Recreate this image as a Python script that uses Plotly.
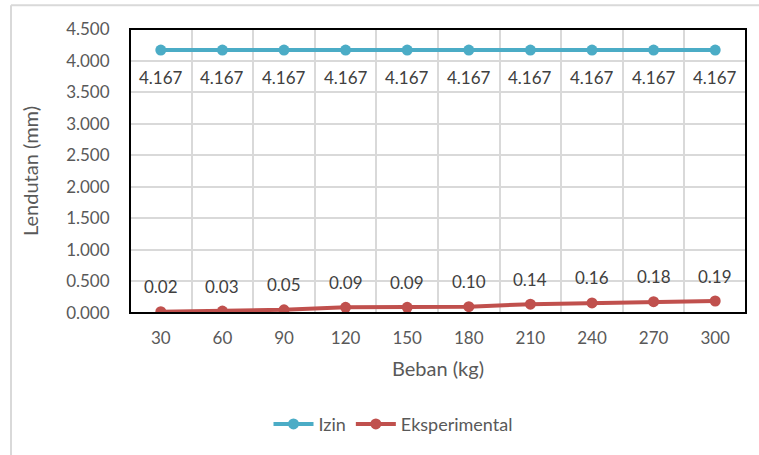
import plotly.graph_objects as go

beban = ["30", "60", "90", "120", "150", "180", "210", "240", "270", "300"]
izin = [4.167] * 10
eksperimental = [0.02, 0.03, 0.05, 0.09, 0.09, 0.10, 0.14, 0.16, 0.18, 0.19]
izin_labels = ["4.167"] * 10
eks_labels = ["0.02", "0.03", "0.05", "0.09", "0.09", "0.10", "0.14", "0.16", "0.18", "0.19"]
y_ticks = [0, 0.5, 1, 1.5, 2, 2.5, 3, 3.5, 4, 4.5]

BLUE = "#4BACC6"
RED = "#C0504D"
FONT = "Lato"
GRAY_TXT = "#595959"

xpos = list(range(1, len(beban) + 1))

fig = go.Figure()
fig.add_trace(go.Scatter(x=xpos, y=izin, name="Izin", mode="lines+markers",
                         line=dict(color=BLUE, width=4), marker=dict(size=11, color=BLUE)))
fig.add_trace(go.Scatter(x=xpos, y=eksperimental, name="Eksperimental", mode="lines+markers",
                         line=dict(color=RED, width=4), marker=dict(size=11, color=RED)))

for x, y, t in zip(xpos, izin, izin_labels):
    fig.add_annotation(x=x, y=y, text=t, showarrow=False, yshift=-27,
                       font=dict(family=FONT, size=17, color="#404040"))
for x, y, t in zip(xpos, eksperimental, eks_labels):
    fig.add_annotation(x=x, y=y, text=t, showarrow=False, yshift=25,
                       font=dict(family=FONT, size=17, color="#404040"))

L, R, T, B = 130, 13, 29, 140
W, H = 759, 455
pw, ph = W - L - R, H - T - B

def px_x(px):
    return (px - L) / pw

def px_y(py):
    return (H - B - py) / ph

# outer chart border (left and top visible)
fig.add_shape(type="line", xref="paper", yref="paper", x0=px_x(11), x1=px_x(11), y0=px_y(5), y1=px_y(460),
              line=dict(color="#D9D9D9", width=2), layer="below")
fig.add_shape(type="line", xref="paper", yref="paper", x0=px_x(11), x1=px_x(765), y0=px_y(5), y1=px_y(5),
              line=dict(color="#D9D9D9", width=2), layer="below")
# plot area border
fig.add_shape(type="rect", xref="paper", yref="paper", x0=0, x1=1, y0=0, y1=1,
              line=dict(color="black", width=2), layer="above")

fig.update_layout(
    width=W, height=H,
    margin=dict(l=L, r=R, t=T, b=B),
    paper_bgcolor="white", plot_bgcolor="white",
    font=dict(family=FONT, size=17, color=GRAY_TXT),
    showlegend=True,
    legend=dict(orientation="h", x=px_x(393), xanchor="center", y=px_y(427), yanchor="middle",
                font=dict(family=FONT, size=18, color=GRAY_TXT), itemwidth=40),
    xaxis=dict(
        range=[0.5, len(beban) + 0.5], tickvals=xpos, ticktext=beban,
        showgrid=False, zeroline=False, showline=False,
        ticks="outside", ticklen=10, tickcolor="rgba(0,0,0,0)",
        tickfont=dict(family=FONT, size=17, color=GRAY_TXT),
        minor=dict(tickvals=[v + 0.5 for v in xpos[:-1]], showgrid=True, gridcolor="#D9D9D9", gridwidth=2, ticks=""),
        title=dict(text="Beban (kg)", font=dict(family=FONT, size=20, color=GRAY_TXT), standoff=14),
    ),
    yaxis=dict(
        range=[0, 4.5], tickvals=y_ticks, tickformat=".3f",
        showgrid=True, gridcolor="#D9D9D9", gridwidth=2, zeroline=False, showline=False,
        ticks="outside", ticklen=16, tickcolor="rgba(0,0,0,0)",
        tickfont=dict(family=FONT, size=17, color=GRAY_TXT),
        title=dict(text="Lendutan (mm)", font=dict(family=FONT, size=20, color=GRAY_TXT), standoff=22),
    ),
)

fig.write_html("out.html")
